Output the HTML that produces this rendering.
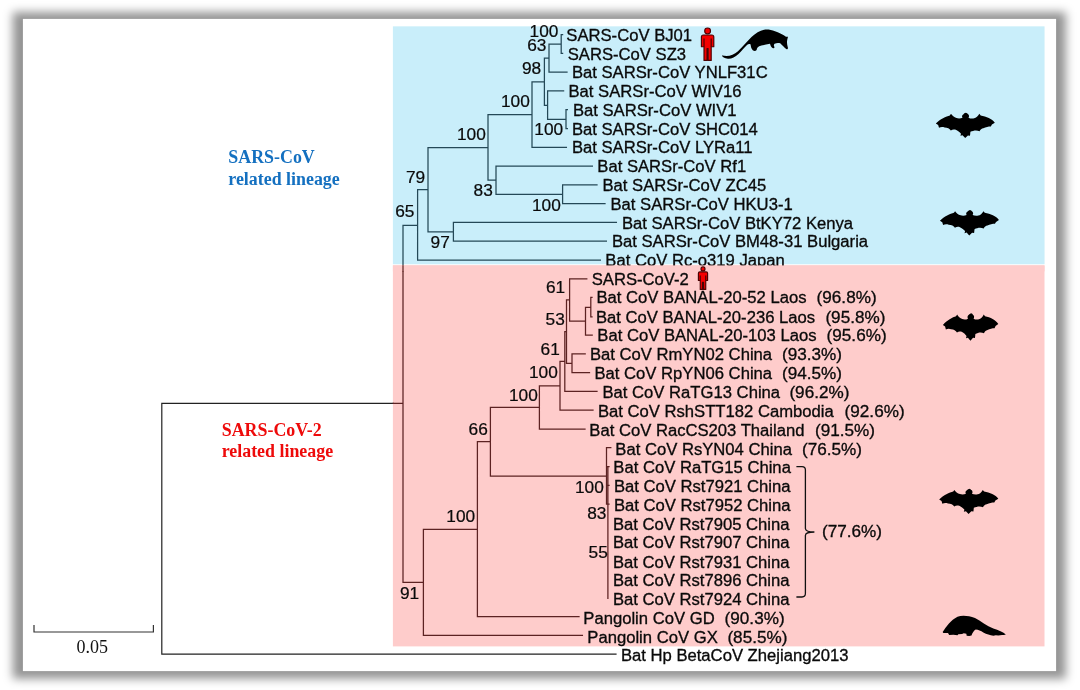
<!DOCTYPE html>
<html lang="en"><head><meta charset="utf-8"><title>Sarbecovirus phylogeny</title>
<style>
html,body{margin:0;padding:0;background:#fff;}
body{width:1080px;height:690px;position:relative;overflow:hidden;}
svg{position:absolute;left:0;top:0;}
.t,.n{font-family:"Liberation Sans",Arial,sans-serif;font-size:16.65px;fill:#0a0a0a;stroke:#0a0a0a;stroke-width:0.32px;}
.p{font-size:17.15px;}
.n{text-anchor:end;font-size:17.3px;stroke-width:0.22px;}
.h{font-family:"Liberation Serif","Times New Roman",serif;font-weight:bold;font-size:17.9px;}
.s{font-family:"Liberation Serif","Times New Roman",serif;font-size:18px;fill:#111;text-anchor:middle;}
</style></head><body>
<svg width="1080" height="690" viewBox="0 0 1080 690">
<defs><filter id="sh" x="-5%" y="-8%" width="110%" height="116%" color-interpolation-filters="sRGB"><feGaussianBlur stdDeviation="5 4.6"/></filter></defs>
<rect x="12.7" y="12" width="1053.2" height="666.8" fill="#000" fill-opacity="0.42" filter="url(#sh)"/>
<rect x="22.9" y="18.9" width="1033.2" height="652.2" fill="#fff"/>

<rect x="392.9" y="26.4" width="651.6" height="239.1" fill="#f3f9fb"/>
<rect x="392.9" y="26.4" width="651.6" height="237.6" fill="#c9eefa"/>
<rect x="392.9" y="265.4" width="651.6" height="381" fill="#fecccb"/>
<path d="M161.8 403.4L393.2 403.4M161.8 403.4L161.8 654.2M161.8 654.2L616.0 654.2" stroke="#222" stroke-width="1.2" fill="none" stroke-linecap="square"/>
<path d="M561.2 34.6L561.2 53.4M561.2 34.6L562.6 34.6M561.2 53.4L562.6 53.4M549.0 44.0L561.2 44.0M549.0 44.0L549.0 72.2M549.0 72.2L567.0 72.2M544.4 58.0L549.0 58.0M566.0 109.7L566.0 128.5M566.0 109.7L567.4 109.7M566.0 128.5L567.4 128.5M547.6 119.4L566.0 119.4M547.6 90.9L547.6 119.4M547.6 90.9L563.6 90.9M544.4 105.4L547.6 105.4M544.4 58.0L544.4 105.4M532.0 81.8L544.4 81.8M532.0 81.8L532.0 147.3M532.0 147.3L566.4 147.3M488.0 114.5L532.0 114.5M562.6 184.9L562.6 203.6M562.6 184.9L597.0 184.9M562.6 203.6L605.0 203.6M496.0 194.3L562.6 194.3M496.0 166.1L496.0 194.3M496.0 166.1L592.4 166.1M488.0 180.0L496.0 180.0M488.0 114.5L488.0 180.0M428.0 147.5L488.0 147.5M453.4 222.4L453.4 241.2M453.4 222.4L616.4 222.4M453.4 241.2L606.4 241.2M428.0 231.8L453.4 231.8M428.0 147.5L428.0 231.8M417.6 189.5L428.0 189.5M417.6 189.5L417.6 260.0M417.6 260.0L600.4 260.0M403.0 225.3L417.6 225.3M403.0 225.3L403.0 265.5" stroke="#244857" stroke-width="1.25" fill="none" stroke-linecap="square"/>
<path d="M403.0 265.5L403.0 582.3M569.6 278.8L569.6 321.0M569.6 278.8L586.8 278.8M569.6 321.0L585.5 321.0M585.5 307.3L585.5 335.1M585.5 335.1L592.2 335.1M585.5 307.3L590.8 307.3M590.8 297.3L590.8 316.8M590.8 297.3L592.0 297.3M590.8 316.8L592.0 316.8M566.5 299.9L569.6 299.9M572.0 353.9L572.0 372.6M572.0 353.9L585.2 353.9M572.0 372.6L589.5 372.6M566.5 363.3L572.0 363.3M566.5 299.9L566.5 363.3M564.8 331.6L566.5 331.6M564.8 331.6L564.8 391.4M564.8 391.4L597.0 391.4M560.0 361.4L564.8 361.4M560.0 361.4L560.0 410.2M560.0 410.2L593.0 410.2M539.4 385.9L560.0 385.9M539.4 385.9L539.4 429.0M539.4 429.0L585.0 429.0M490.4 407.4L539.4 407.4M490.4 407.4L490.4 476.0M490.4 476.0L606.5 476.0M606.5 447.7L606.5 504.2M606.5 447.7L610.8 447.7M607.9 466.5L607.9 598.3M607.7 466.5L609.0 466.5M607.7 485.3L609.0 485.3M607.7 504.0L609.0 504.0M477.4 441.6L490.4 441.6M477.4 441.6L477.4 616.7M477.4 616.7L579.0 616.7M423.4 529.4L477.4 529.4M423.4 529.4L423.4 635.4M423.4 635.4L582.4 635.4M403.0 582.3L423.4 582.3M393.2 403.4L403.0 403.4" stroke="#5c2222" stroke-width="1.25" fill="none" stroke-linecap="square"/>
<path d="M34 625V632H153.4V625" stroke="#333" stroke-width="1.2" fill="none"/>
<text class="s" x="92.3" y="653.4">0.05</text>
<text class="h" fill="#1470c0" x="228.3" y="163.2">SARS-CoV</text>
<text class="h" fill="#1470c0" x="228.3" y="184.6">related lineage</text>
<text class="h" fill="#ee0a0a" x="221.7" y="435.8">SARS-CoV-2</text>
<text class="h" fill="#ee0a0a" x="221.7" y="457">related lineage</text>
<text class="n" x="558.4" y="36.5">100</text>
<text class="n" x="546.4" y="50.5">63</text>
<text class="n" x="541.2" y="73.5">98</text>
<text class="n" x="529.8" y="107.1">100</text>
<text class="n" x="563.2" y="135.1">100</text>
<text class="n" x="485.8" y="139.5">100</text>
<text class="n" x="425.2" y="182.9">79</text>
<text class="n" x="492.8" y="196.1">83</text>
<text class="n" x="560.8" y="210.5">100</text>
<text class="n" x="414.4" y="217.1">65</text>
<text class="n" x="449.8" y="247.5">97</text>
<text class="n" x="565.2" y="292.9">61</text>
<text class="n" x="564.8" y="324.5">53</text>
<text class="n" x="559.8" y="354.5">61</text>
<text class="n" x="557.8" y="377.9">100</text>
<text class="n" x="537.8" y="400.5">100</text>
<text class="n" x="487.8" y="434.5">66</text>
<text class="n" x="603.8" y="492.5">100</text>
<text class="n" x="606.4" y="519.1">83</text>
<text class="n" x="607.8" y="558.1">55</text>
<text class="n" x="475.2" y="521.5">100</text>
<text class="n" x="419.2" y="598.9">91</text>
<text class="t" x="566.3" y="41.3">SARS-CoV BJ01</text>
<text class="t" x="567.7" y="59.9">SARS-CoV SZ3</text>
<text class="t" x="571.9" y="78.3">Bat SARSr-CoV YNLF31C</text>
<text class="t" x="568.5" y="97.3">Bat SARSr-CoV WIV16</text>
<text class="t" x="572.9" y="115.9">Bat SARSr-CoV WIV1</text>
<text class="t" x="571.9" y="134.7">Bat SARSr-CoV SHC014</text>
<text class="t" x="571.9" y="153.3">Bat SARSr-CoV LYRa11</text>
<text class="t" x="597.3" y="172.3">Bat SARSr-CoV Rf1</text>
<text class="t" x="602.5" y="190.7">Bat SARSr-CoV ZC45</text>
<text class="t" x="610.5" y="209.7">Bat SARSr-CoV HKU3-1</text>
<text class="t" x="621.9" y="228.7">Bat SARSr-CoV BtKY72 Kenya</text>
<text class="t" x="611.9" y="247.1">Bat SARSr-CoV BM48-31 Bulgaria</text>
<text class="t" x="605.3" y="266.0">Bat CoV Rc-o319 Japan</text>
<rect x="392.9" y="265.4" width="651.6" height="6" fill="#fecccb"/>
<path d="M403 265.5V272" stroke="#5c2222" stroke-width="1.25"/>
<text class="t" x="591.7" y="285.1">SARS-CoV-2</text>
<text class="t" x="596.5" y="302.7">Bat CoV BANAL-20-52 Laos</text>
<text class="t p" x="816.6" y="302.7">(96.8%)</text>
<text class="t" x="595.9" y="322.9">Bat CoV BANAL-20-236 Laos</text>
<text class="t p" x="825.4" y="322.9">(95.8%)</text>
<text class="t" x="597.3" y="341.1">Bat CoV BANAL-20-103 Laos</text>
<text class="t p" x="826.6" y="341.1">(95.6%)</text>
<text class="t" x="589.9" y="360.3">Bat CoV RmYN02 China</text>
<text class="t p" x="782.0" y="360.3">(93.3%)</text>
<text class="t" x="594.5" y="379.1">Bat CoV RpYN06 China</text>
<text class="t p" x="782.0" y="379.1">(94.5%)</text>
<text class="t" x="602.5" y="397.7">Bat CoV RaTG13 China</text>
<text class="t p" x="789.4" y="397.7">(96.2%)</text>
<text class="t" x="597.9" y="416.7">Bat CoV RshSTT182 Cambodia</text>
<text class="t p" x="844.6" y="416.7">(92.6%)</text>
<text class="t" x="589.3" y="435.7">Bat CoV RacCS203 Thailand</text>
<text class="t p" x="815.0" y="435.7">(91.5%)</text>
<text class="t" x="615.3" y="454.7">Bat CoV RsYN04 China</text>
<text class="t p" x="802.0" y="454.7">(76.5%)</text>
<text class="t" x="613.3" y="473.3">Bat CoV RaTG15 China</text>
<text class="t" x="613.9" y="491.7">Bat CoV Rst7921 China</text>
<text class="t" x="613.9" y="510.7">Bat CoV Rst7952 China</text>
<text class="t" x="612.9" y="529.5">Bat CoV Rst7905 China</text>
<text class="t" x="612.9" y="548.3">Bat CoV Rst7907 China</text>
<text class="t" x="612.9" y="567.7">Bat CoV Rst7931 China</text>
<text class="t" x="612.9" y="586.3">Bat CoV Rst7896 China</text>
<text class="t" x="612.9" y="604.7">Bat CoV Rst7924 China</text>
<text class="t" x="583.3" y="624.3">Pangolin CoV GD</text>
<text class="t p" x="724.6" y="624.3">(90.3%)</text>
<text class="t" x="587.3" y="642.7">Pangolin CoV GX</text>
<text class="t p" x="727.4" y="642.7">(85.5%)</text>
<text class="t" x="620.9" y="660.7">Bat Hp BetaCoV Zhejiang2013</text>
<text class="t p" x="822.0" y="537.1">(77.6%)</text>
<path d="M796.4 466.6H802Q805.4 466.6 805.4 470V528.5Q805.4 532 814.4 532Q805.4 532 805.4 535.5V593.6Q805.4 597 802 597H796.4" stroke="#111" stroke-width="1.3" fill="none"/>
<path transform="translate(925 100) scale(0.08333333333333333 0.08333333333333333)" d="M450 212C430 224 395 224 378 216C350 205 325 190 312 166L298 186C255 196 180 232 130 282L158 300L168 332C190 322 215 322 235 330C270 330 295 345 310 365C330 352 350 352 370 358C400 372 420 390 432 405L425 430L450 423L482 457L515 425L540 428L545 382C580 365 620 358 655 375C665 352 680 342 700 338C730 325 760 318 790 318L803 295L838 272C805 228 735 196 668 186L652 166C640 192 610 216 590 219C570 225 540 222 522 212C534 198 530 176 514 168L505 158L490 153L472 160L462 170C444 178 440 198 450 212Z" fill="#000"/>
<path transform="translate(929.1 197.3) scale(0.08333333333333333 0.08333333333333333)" d="M450 212C430 224 395 224 378 216C350 205 325 190 312 166L298 186C255 196 180 232 130 282L158 300L168 332C190 322 215 322 235 330C270 330 295 345 310 365C330 352 350 352 370 358C400 372 420 390 432 405L425 430L450 423L482 457L515 425L540 428L545 382C580 365 620 358 655 375C665 352 680 342 700 338C730 325 760 318 790 318L803 295L838 272C805 228 735 196 668 186L652 166C640 192 610 216 590 219C570 225 540 222 522 212C534 198 530 176 514 168L505 158L490 153L472 160L462 170C444 178 440 198 450 212Z" fill="#000"/>
<path transform="translate(932.7276836158192 299.53973509933775) scale(0.07824858757062143 0.09006622516556288)" d="M450 212C430 224 395 224 378 216C350 205 325 190 312 166L298 186C255 196 180 232 130 282L158 300L168 332C190 322 215 322 235 330C270 330 295 345 310 365C330 352 350 352 370 358C400 372 420 390 432 405L425 430L450 423L482 457L515 425L540 428L545 382C580 365 620 358 655 375C665 352 680 342 700 338C730 325 760 318 790 318L803 295L838 272C805 228 735 196 668 186L652 166C640 192 610 216 590 219C570 225 540 222 522 212C534 198 530 176 514 168L505 158L490 153L472 160L462 170C444 178 440 198 450 212Z" fill="#000"/>
<path transform="translate(928.3483050847458 476.16887417218544) scale(0.08347457627118632 0.08278145695364239)" d="M450 212C430 224 395 224 378 216C350 205 325 190 312 166L298 186C255 196 180 232 130 282L158 300L168 332C190 322 215 322 235 330C270 330 295 345 310 365C330 352 350 352 370 358C400 372 420 390 432 405L425 430L450 423L482 457L515 425L540 428L545 382C580 365 620 358 655 375C665 352 680 342 700 338C730 325 760 318 790 318L803 295L838 272C805 228 735 196 668 186L652 166C640 192 610 216 590 219C570 225 540 222 522 212C534 198 530 176 514 168L505 158L490 153L472 160L462 170C444 178 440 198 450 212Z" fill="#000"/>
<path transform="translate(690 20) scale(0.1 0.1)" d="M318 355C322 368 345 384 380 388C415 390 450 372 485 340C515 310 545 275 570 250C580 240 595 236 606 244C608 265 614 288 628 302C642 314 660 312 667 298C668 284 676 270 692 263C720 252 765 246 800 238C804 256 812 272 826 280C840 286 850 278 842 264C836 254 838 244 846 238C865 228 885 228 902 233C920 250 945 278 966 292C980 294 982 280 976 264C970 245 968 222 972 200C974 188 978 178 980 168C970 166 960 172 950 160C925 143 885 126 850 113C815 99 778 93 742 97C700 104 655 133 615 170C575 208 530 265 480 312C445 342 405 360 365 360C345 358 330 352 318 355Z" fill="#000"/>
<path transform="translate(930 600) scale(0.08333333333333333 0.08333333333333333)" d="M152 385C190 325 250 240 330 200C380 182 460 185 540 215C610 250 680 310 760 342C820 362 880 385 910 415C880 424 850 420 820 426L790 424L760 430C720 424 680 410 640 390C610 372 580 358 548 355C525 368 510 395 498 425L470 432L440 430L436 406L405 398L385 408L340 410L330 422L280 418L230 420L216 396L160 396Z" fill="#000"/>
<g fill="#f40000" stroke="#4c0202" stroke-width="1.15" stroke-linejoin="round"><path d="M703.38 35.00H711.82Q713.80 35.00 713.80 36.98V46.70H711.20V60.40H708.15V48.50H707.05V60.40H704.00V46.70H701.40V36.98Q701.40 35.00 703.38 35.00Z"/><path d="M704.00 38.60V46.70M711.20 38.60V46.70" fill="none"/><circle cx="707.60" cy="30.90" r="2.90"/></g>
<g fill="#f40000" stroke="#4c0202" stroke-width="1.15" stroke-linejoin="round"><path d="M699.87 271.90H706.13Q707.60 271.90 707.60 273.37V280.50H705.75V289.40H703.55V282.30H702.45V289.40H700.25V280.50H698.40V273.37Q698.40 271.90 699.87 271.90Z"/><path d="M700.25 275.50V280.50M705.75 275.50V280.50" fill="none"/><circle cx="703.00" cy="268.90" r="2.00"/></g>
</svg></body></html>
